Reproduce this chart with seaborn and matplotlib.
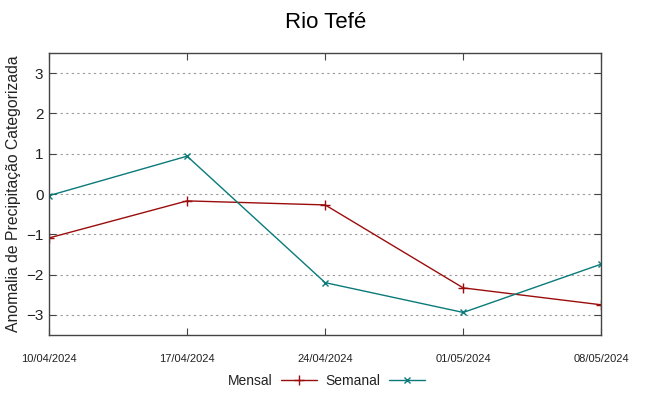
import matplotlib
matplotlib.use('Agg')
import matplotlib.pyplot as plt
import matplotlib.dates as mdates
import seaborn as sns
import pandas as pd

dates = ['2024-04-10', '2024-04-17', '2024-04-24', '2024-05-01', '2024-05-08']
mensal = [-1.09, -0.17, -0.27, -2.33, -2.75]
semanal = [-0.04, 0.94, -2.20, -2.94, -1.74]
yticks = [-3, -2, -1, 0, 1, 2, 3]

df = pd.DataFrame({'data': pd.to_datetime(dates), 'Mensal': mensal, 'Semanal': semanal})

sns.set_style('white')
plt.rcParams['font.family'] = ['Liberation Sans', 'DejaVu Sans']

fig = plt.figure(figsize=(6.49, 3.96), dpi=100)
ax = fig.add_axes([0.0755, 0.154, 0.851, 0.712])

red = '#9b0d0d'
teal = '#0a7a7a'
sns.lineplot(data=df, x='data', y='Mensal', ax=ax, color=red, marker='+',
             markersize=7, markeredgewidth=1, markeredgecolor=red, linewidth=1, label='Mensal')
sns.lineplot(data=df, x='data', y='Semanal', ax=ax, color=teal, marker='x',
             markersize=5, markeredgewidth=1, markeredgecolor=teal, linewidth=1, label='Semanal')

ax.set_xlim(df['data'].iloc[0], df['data'].iloc[-1])
ax.set_ylim(-3.5, 3.5)
ax.set_xticks(df['data'])
ax.xaxis.set_major_formatter(mdates.DateFormatter('%d/%m/%Y'))
ax.set_yticks(yticks)
ax.tick_params(axis='x', labelsize=8, direction='in', top=True, bottom=True, length=5, pad=14,
               colors='#444444', labelcolor='#222222')
ax.tick_params(axis='y', labelsize=11, direction='in', left=True, right=True, length=5, pad=4,
               colors='#444444', labelcolor='#222222')
ax.grid(axis='y', linestyle=(0, (2, 3)), color='#999999', linewidth=0.8)
for s in ax.spines.values():
    s.set_color('#444444')
    s.set_linewidth(1)

ax.set_xlabel('')
ax.set_ylabel('Anomalia de Precipitação Categorizada', fontsize=11.3, color='#222222')
ax.yaxis.set_label_coords(-0.05, 0.5)
ax.set_title('Rio Tefé', fontsize=16, pad=18, color='black')

ax.legend(loc='center', bbox_to_anchor=(0.503, 0.038), bbox_transform=fig.transFigure, ncol=2,
          frameon=False, markerfirst=False, fontsize=10, handlelength=2.6, handletextpad=0.6,
          columnspacing=0.6, labelcolor='#222222')

fig.savefig('out.png', dpi=100)
